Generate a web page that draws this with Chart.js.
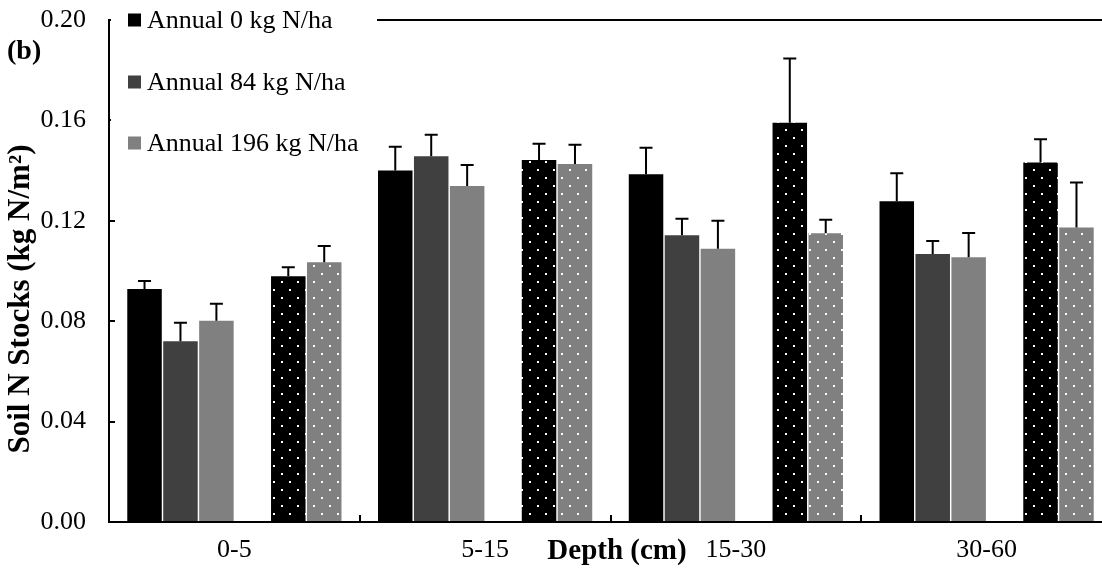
<!DOCTYPE html>
<html>
<head>
<meta charset="utf-8">
<title>Soil N Stocks by depth</title>
<script src="https://cdn.jsdelivr.net/npm/chart.js@4.4.1/dist/chart.umd.min.js"></script>
<style>
  html, body { margin: 0; padding: 0; background: #fff; overflow: hidden; }
  #wrap { position: relative; width: 1114px; height: 575px; }
</style>
</head>
<body>
<div id="wrap"><canvas id="chart"></canvas></div>
<script>
// values, kg N/m2
const depths = ["0-5", "5-15", "15-30", "30-60"];
const yTicks = [0, 0.04, 0.08, 0.12, 0.16, 0.2];

const annual0 = [0.0928, 0.1400, 0.1385, 0.1278];
const annual0Err = [0.0032, 0.0095, 0.0106, 0.0111];
const annual84 = [0.0720, 0.1457, 0.1142, 0.1068];
const annual84Err = [0.0074, 0.0086, 0.0066, 0.0052];
const annual196 = [0.0802, 0.1339, 0.1089, 0.1055];
const annual196Err = [0.0068, 0.0083, 0.0111, 0.0096];
// dotted bars (not in the legend)
const dottedBlack = [0.0979, 0.1442, 0.1591, 0.1432];
const dottedBlackErr = [0.0036, 0.0065, 0.0256, 0.0093];
const dottedGray = [0.1035, 0.1426, 0.1150, 0.1173];
const dottedGrayErr = [0.0065, 0.0077, 0.0054, 0.0180];

const FONT = "'Liberation Serif', 'Times New Roman', serif";
const SIZE = 26;

function dots(color) {
  const c = document.createElement("canvas");
  c.width = 16;
  c.height = 16;
  const g = c.getContext("2d");
  g.fillStyle = color;
  g.fillRect(0, 0, 16, 16);
  g.fillStyle = "#fff";
  g.fillRect(1, 1, 2, 2);
  g.fillRect(9, 9, 2, 2);
  return g.createPattern(c, "repeat");
}

const extras = {
  id: "extras",
  afterDatasetsDraw(chart) {
    const { ctx, scales: { y } } = chart;
    ctx.save();
    ctx.strokeStyle = "#000";
    ctx.lineWidth = 2;
    chart.data.datasets.forEach((ds, i) => {
      if (!ds.errors) return;
      chart.getDatasetMeta(i).data.forEach((bar, j) => {
        const top = y.getPixelForValue(ds.data[j] + ds.errors[j]);
        ctx.beginPath();
        ctx.moveTo(bar.x, bar.y);
        ctx.lineTo(bar.x, top);
        ctx.moveTo(bar.x - 6.5, top);
        ctx.lineTo(bar.x + 6.5, top);
        ctx.stroke();
      });
    });
    ctx.restore();
  },
  afterDraw(chart) {
    const { ctx, chartArea: area, scales: { x, y } } = chart;
    ctx.save();
    ctx.strokeStyle = "#000";
    ctx.lineWidth = 2;

    // top frame line
    ctx.beginPath();
    ctx.moveTo(area.left, area.top);
    ctx.lineTo(area.right, area.top);
    ctx.stroke();

    // inward tick marks
    ctx.beginPath();
    yTicks.forEach((v) => {
      const py = Math.round(y.getPixelForValue(v));
      ctx.moveTo(area.left, py);
      ctx.lineTo(area.left + 6, py);
    });
    for (let i = 0; i < depths.length - 1; i += 1) {
      const px = Math.round((x.getPixelForValue(i) + x.getPixelForValue(i + 1)) / 2);
      ctx.moveTo(px, area.bottom);
      ctx.lineTo(px, area.bottom - 7);
    }
    ctx.stroke();

    // legend box (covers the frame line)
    ctx.fillStyle = "#fff";
    ctx.fillRect(area.left + 2, 4, 266, 156);
    const rows = [20, 82, 143];
    ctx.font = `${SIZE}px ${FONT}`;
    ctx.textBaseline = "middle";
    ctx.textAlign = "left";
    chart.data.datasets.slice(0, 3).forEach((ds, i) => {
      ctx.fillStyle = ds.backgroundColor;
      ctx.fillRect(128, rows[i] - 6.5, 13, 13);
      ctx.fillStyle = "#000";
      ctx.fillText(ds.label, 147, rows[i] + 1);
    });

    // titles
    ctx.font = `bold 28px ${FONT}`;
    ctx.fillText("(b)", 7, 52);
    ctx.textAlign = "center";
    ctx.font = `bold 29px ${FONT}`;
    ctx.fillText("Depth (cm)", 617, area.bottom + 30);
    ctx.font = `bold 31px ${FONT}`;
    ctx.translate(21, 299);
    ctx.rotate(-Math.PI / 2);
    ctx.fillText("Soil N Stocks (kg N/m\u00b2)", 0, 0);
    ctx.restore();
  },
};

new Chart(document.getElementById("chart"), {
  type: "bar",
  data: {
    labels: depths,
    datasets: [
      { label: "Annual 0 kg N/ha", data: annual0, errors: annual0Err, backgroundColor: "#000000" },
      { label: "Annual 84 kg N/ha", data: annual84, errors: annual84Err, backgroundColor: "#404040" },
      { label: "Annual 196 kg N/ha", data: annual196, errors: annual196Err, backgroundColor: "#808080" },
      { label: "", data: depths.map(() => null), backgroundColor: "transparent" },
      { label: "", data: dottedBlack, errors: dottedBlackErr, backgroundColor: dots("#000000") },
      { label: "", data: dottedGray, errors: dottedGrayErr, backgroundColor: dots("#808080") },
    ],
  },
  options: {
    responsive: true,
    maintainAspectRatio: false,
    animation: false,
    categoryPercentage: 0.86,
    barPercentage: 0.96,
    layout: { padding: { top: 20, right: 2, left: 0, bottom: 0 } },
    font: { family: FONT },
    plugins: {
      legend: { display: false },
      tooltip: { enabled: false },
    },
    scales: {
      x: {
        grid: { display: false, drawTicks: false },
        border: { display: true, color: "#000", width: 2, z: 1 },
        ticks: { color: "#000", font: { family: FONT, size: SIZE }, padding: 13, maxRotation: 0 },
        afterFit: (s) => { s.height = 53; },
      },
      y: {
        min: 0,
        max: 0.2,
        grid: { display: false, drawTicks: false },
        border: { display: true, color: "#000", width: 2, z: 1 },
        afterBuildTicks: (s) => { s.ticks = yTicks.map((v) => ({ value: v })); },
        ticks: {
          color: "#000",
          font: { family: FONT, size: SIZE },
          padding: 23,
          callback: (v) => Number(v).toFixed(2),
        },
        afterFit: (s) => {
          s.width = 109;
          s.paddingTop = 0;
          s.paddingBottom = 0;
        },
      },
    },
  },
  plugins: [extras],
});
</script>
</body>
</html>
